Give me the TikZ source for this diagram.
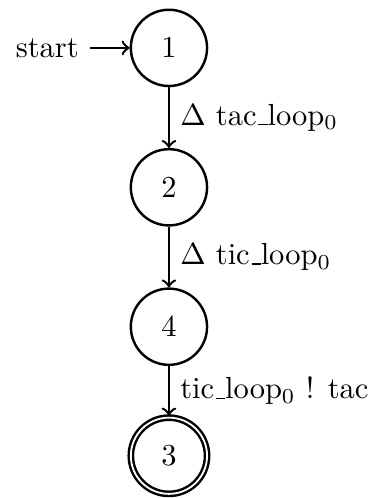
\documentclass[tikz,border=0pt]{standalone}
\usepackage{tikz}
\usetikzlibrary{arrows,automata,positioning}

% underscore as a low rule, as in OT1
\newcommand{\lowbar}{\leavevmode\kern.06em\vbox{\hrule width.3em}}

\begin{document}
\begin{tikzpicture}[->,thick,node distance=0.7cm,auto]
  \useasboundingbox (-55.4pt,15.7pt) rectangle (67.2pt,-147.6pt);
  \node[state,initial] (q1) {$1$};
  \node[state] (q2) [below=of q1] {$2$};
  \node[state] (q4) [below=of q2] {$4$};
  \node[state,accepting] (q3) [below=0.57cm of q4] {$3$};

  \path (q1) edge node {$\Delta$ tac\lowbar loop$_0$} (q2)
        (q2) edge node {$\Delta$ tic\lowbar loop$_0$} (q4)
        (q4) edge node {tic\lowbar loop$_0$ ! tac} (q3);
\end{tikzpicture}
\end{document}
